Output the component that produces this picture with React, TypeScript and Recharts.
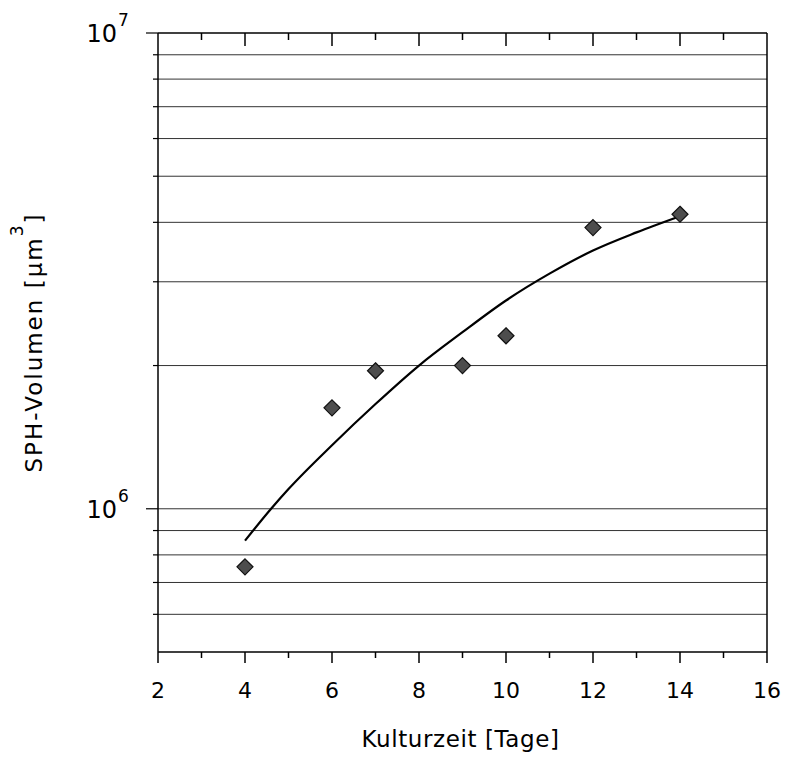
import React from 'react';
import { ComposedChart, Line, Scatter, XAxis, YAxis, ReferenceLine, Label } from 'recharts';

// measured points
const days = [4, 6, 7, 9, 10, 12, 14];
const volumes = [7.55e5, 1.63e6, 1.95e6, 2.0e6, 2.31e6, 3.9e6, 4.16e6];

// fitted curve
const fitDays = [4, 4.6, 5, 6, 7, 8, 9, 10, 11, 12, 13, 14];
const fitVolumes = [8.57e5, 1.0e6, 1.1e6, 1.36e6, 1.66e6, 2.0e6, 2.35e6, 2.74e6, 3.12e6, 3.49e6, 3.81e6, 4.12e6];

const xTicks = [2, 3, 4, 5, 6, 7, 8, 9, 10, 11, 12, 13, 14, 15, 16];
const xLabelTicks = [2, 4, 6, 8, 10, 12, 14, 16];
const yTicks = [6e5, 7e5, 8e5, 9e5, 1e6, 2e6, 3e6, 4e6, 5e6, 6e6, 7e6, 8e6, 9e6, 1e7];
const yMajor = [1e6, 1e7];
const yGrid = [6e5, 7e5, 8e5, 9e5, 1e6, 2e6, 3e6, 4e6, 5e6, 6e6, 7e6, 8e6, 9e6];

const xLabel = 'Kulturzeit [Tage]';
const yLabel = 'SPH-Volumen [μm';

const points = days.map((d, i) => ({ x: d, y: volumes[i] }));
const fit = fitDays.map((d, i) => ({ x: d, y: fitVolumes[i] }));

const FONT = 'DejaVu Sans';
const MARGIN_TOP = 33;

const BottomTick = (props: any) => {
  const { x, y, payload } = props;
  const v = payload.value;
  const major = xLabelTicks.includes(v);
  const inner = v !== xTicks[0] && v !== xTicks[xTicks.length - 1];
  return (
    <g>
      <line x1={x} x2={x} y1={y} y2={y + (major ? 11 : 6)} stroke="#000" strokeWidth={1.5} />
      {inner && (
        <line
          x1={x}
          x2={x}
          y1={MARGIN_TOP}
          y2={MARGIN_TOP + (major ? 13 : 7)}
          stroke="#000"
          strokeWidth={1.5}
        />
      )}
      {major && (
        <text x={x} y={y + 46} textAnchor="middle" fontSize={22} fontFamily={FONT} fill="#000">
          {v}
        </text>
      )}
    </g>
  );
};

const LeftTick = (props: any) => {
  const { x, y, payload } = props;
  const v = payload.value;
  const major = yMajor.includes(v);
  const exp = Math.round(Math.log10(v));
  return (
    <g>
      <line x1={x - (major ? 12 : 5)} x2={x} y1={y} y2={y} stroke="#000" strokeWidth={1.2} />
      {major && (
        <g fontFamily={FONT} fill="#000">
          <text x={x - 41} y={y + 9} textAnchor="end" fontSize={24}>10</text>
          <text x={x - 40} y={y - 7} textAnchor="start" fontSize={17}>{exp}</text>
        </g>
      )}
    </g>
  );
};

const Diamond = (props: any) => {
  const { cx, cy } = props;
  const r = 8;
  return (
    <polygon
      points={`${cx},${cy - r} ${cx + r},${cy} ${cx},${cy + r} ${cx - r},${cy}`}
      fill="#4d4d4d"
      stroke="#111"
      strokeWidth={1.2}
    />
  );
};

const YLabelContent = (props: any) => {
  const vb = props.viewBox;
  const cx = vb.x + 42;
  const cy = vb.y + vb.height / 2;
  return (
    <text
      x={cx}
      y={cy}
      transform={`rotate(-90, ${cx}, ${cy})`}
      textAnchor="middle"
      fontSize={23}
      fontFamily={FONT}
      letterSpacing={2}
      fill="#000"
    >
      {yLabel}
      <tspan dy={-19} fontSize={17}>3</tspan>
      <tspan dy={19}>]</tspan>
    </text>
  );
};

const XLabelContent = (props: any) => {
  const vb = props.viewBox;
  const cx = vb.x + vb.width / 2 - 2;
  return (
    <text x={cx} y={vb.y + 95} textAnchor="middle" fontSize={23} fontFamily={FONT} letterSpacing={0.6} fill="#000">
      {xLabel}
    </text>
  );
};

export default function App() {
  return (
    <div style={{ position: 'absolute', left: 0, top: 0 }}>
      <ComposedChart width={785} height={758} margin={{ top: MARGIN_TOP, right: 18, bottom: 0, left: 0 }}>
        {yGrid.map((v) => (
          <ReferenceLine key={'g' + v} xAxisId="b" yAxisId="l" y={v} stroke="#333" strokeWidth={1} />
        ))}
        <ReferenceLine xAxisId="b" yAxisId="l" y={1e7} stroke="#000" strokeWidth={1.5} />
        <ReferenceLine xAxisId="b" yAxisId="l" x={16} stroke="#000" strokeWidth={1.5} />
        <XAxis
          xAxisId="b"
          dataKey="x"
          type="number"
          domain={[2, 16]}
          ticks={xTicks}
          interval={0}
          allowDataOverflow
          height={106}
          tickSize={0}
          tickMargin={0}
          tickLine={false}
          tick={<BottomTick />}
          axisLine={{ stroke: '#000', strokeWidth: 1.5 }}
        >
          <Label content={<XLabelContent />} />
        </XAxis>
        <YAxis
          yAxisId="l"
          dataKey="y"
          scale="log"
          type="number"
          domain={[5e5, 1e7]}
          ticks={yTicks}
          interval={0}
          allowDataOverflow
          width={158}
          tickSize={0}
          tickMargin={0}
          tickLine={false}
          tick={<LeftTick />}
          axisLine={{ stroke: '#000', strokeWidth: 1.5 }}
        >
          <Label content={<YLabelContent />} />
        </YAxis>
        <Line
          xAxisId="b"
          yAxisId="l"
          data={fit}
          dataKey="y"
          type="monotone"
          stroke="#000"
          strokeWidth={2.2}
          dot={false}
          activeDot={false}
          isAnimationActive={false}
        />
        <Scatter
          xAxisId="b"
          yAxisId="l"
          data={points}
          dataKey="y"
          shape={<Diamond />}
          isAnimationActive={false}
        />
      </ComposedChart>
    </div>
  );
}
